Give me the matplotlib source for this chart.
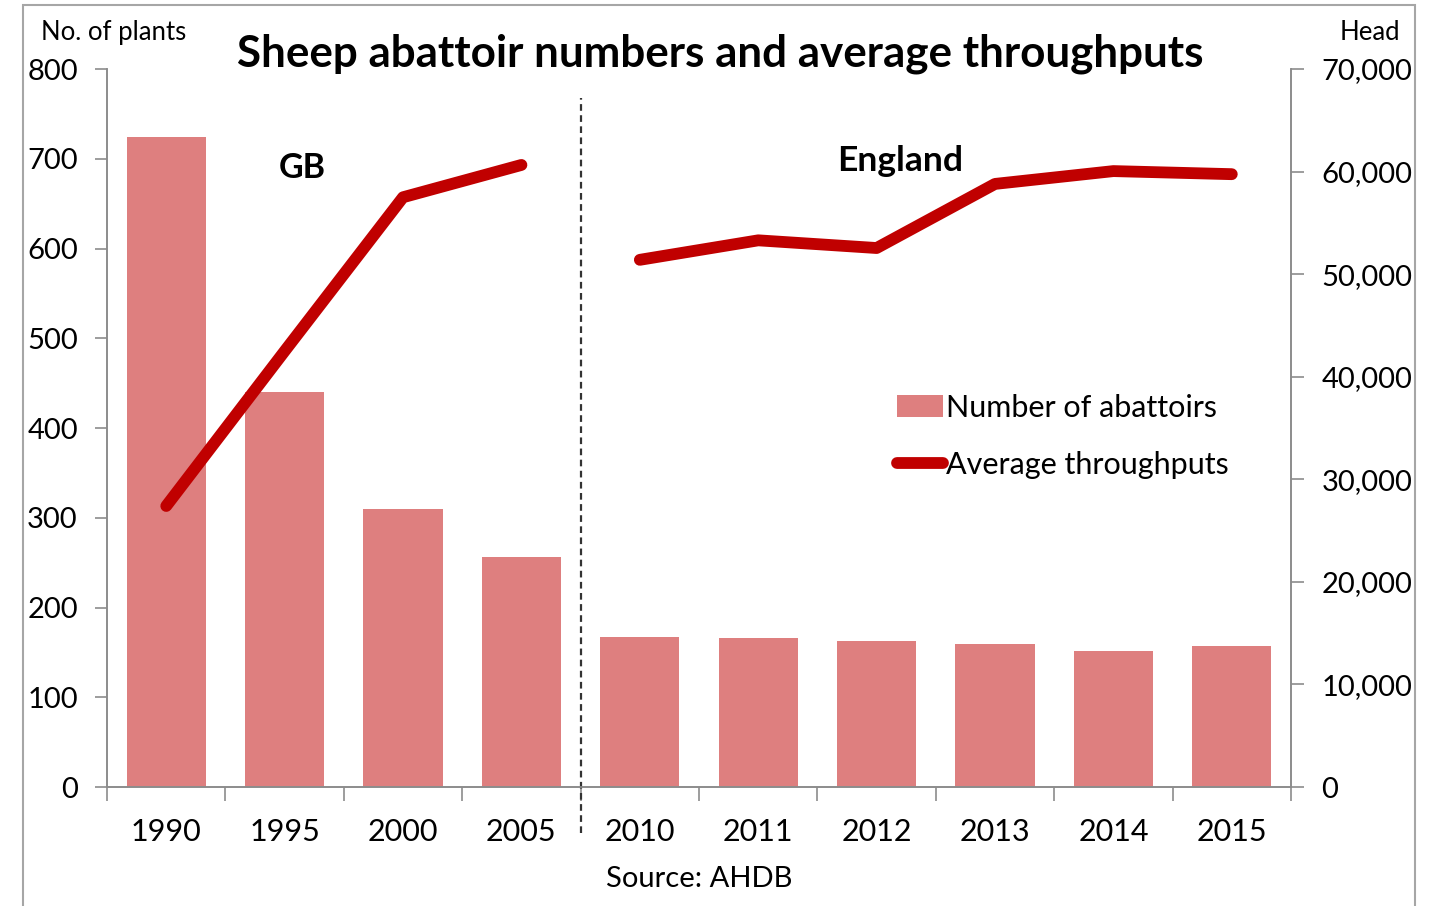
import numpy as np
import matplotlib
matplotlib.use("Agg")
import matplotlib.pyplot as plt
from matplotlib.patches import Rectangle
from matplotlib.ticker import FuncFormatter

plt.rcParams['font.family'] = ['Lato', 'DejaVu Sans']

years = ['1990', '1995', '2000', '2005', '2010', '2011', '2012', '2013', '2014', '2015']
abattoirs = [724, 440, 310, 256, 167, 166, 163, 159, 152, 157]
# no line value between 2005 (GB) and 2010 (England)
throughput = [27400, 42500, 57500, 60650, 51400, 53300, 52550, 58800, 60050, 59750]
gb_part = slice(0, 4)
eng_part = slice(4, 10)

bar_col = '#DE7F7F'
line_col = '#C00000'
grey = '#8C8C8C'

fig = plt.figure(figsize=(14.37, 9.06), dpi=100)
ax = fig.add_axes([0.0745, 0.1313, 0.8239, 0.7925])
ax2 = ax.twinx()

x = np.arange(len(years))
bars = ax.bar(x, abattoirs, width=0.67, color=bar_col, label='Number of abattoirs', zorder=2)
ln, = ax2.plot(x[gb_part], throughput[gb_part], color=line_col, lw=8.5,
               solid_capstyle='round', solid_joinstyle='round', label='Average throughputs')
ax2.plot(x[eng_part], throughput[eng_part], color=line_col, lw=8.5,
         solid_capstyle='round', solid_joinstyle='round')

ax.set_xlim(-0.5, len(years) - 0.5)
ax.set_ylim(0, 800)
ax2.set_ylim(0, 70000)
ax.set_yticks(range(0, 801, 100))
ax2.set_yticks(range(0, 70001, 10000))
ax2.yaxis.set_major_formatter(FuncFormatter(lambda v, p: f'{int(v):,}'))

ax.set_xticks(x)
ax.set_xticklabels(years)
ax.set_xticks(np.arange(-0.5, len(years), 1.0), minor=True)
ax.tick_params(axis='x', which='major', length=0, pad=22, labelsize=22)
ax.tick_params(axis='x', which='minor', length=10, color=grey, width=1.2)
ax.tick_params(axis='y', length=9, color=grey, width=1.2, labelsize=21, pad=12)
ax2.tick_params(axis='y', length=9, color=grey, width=1.2, labelsize=21, pad=13)

for a in (ax, ax2):
    a.spines['top'].set_visible(False)
    for s in ('left', 'right', 'bottom'):
        a.spines[s].set_color(grey)
        a.spines[s].set_linewidth(1.2)

# divider between GB and England series
ax.plot([3.5, 3.5], [-0.064, 0.96], transform=ax.get_xaxis_transform(),
        color='#333333', lw=1.6, ls=(0, (3, 2)), clip_on=False, zorder=3)

ax.text(1.15, 690, 'GB', fontsize=24.5, fontweight='bold', ha='center', va='center')
ax.text(6.2, 697, 'England', fontsize=25.5, fontweight='bold', ha='center', va='center')

fig.text(0.5015, 0.9405, 'Sheep abattoir numbers and average throughputs',
         fontsize=31.7, fontweight='bold', ha='center', va='center')
fig.text(0.079, 0.964, 'No. of plants', fontsize=18.5, ha='center', va='center')
fig.text(0.953, 0.964, 'Head', fontsize=18.5, ha='center', va='center')
fig.text(0.4865, 0.030, 'Source: AHDB', fontsize=21, ha='center', va='center')

leg = ax.legend([bars, ln], ['Number of abattoirs', 'Average throughputs'],
                loc='upper left', bbox_to_anchor=(0.657, 0.565), frameon=False,
                fontsize=22, handlelength=1.5, handletextpad=0.1, labelspacing=0.95,
                borderaxespad=0)

fig.patches.append(Rectangle((0.016, -0.01), 0.969, 1.004, transform=fig.transFigure,
                             fill=False, edgecolor='#A6A6A6', lw=1.5))

fig.savefig('out.png', dpi=100)
